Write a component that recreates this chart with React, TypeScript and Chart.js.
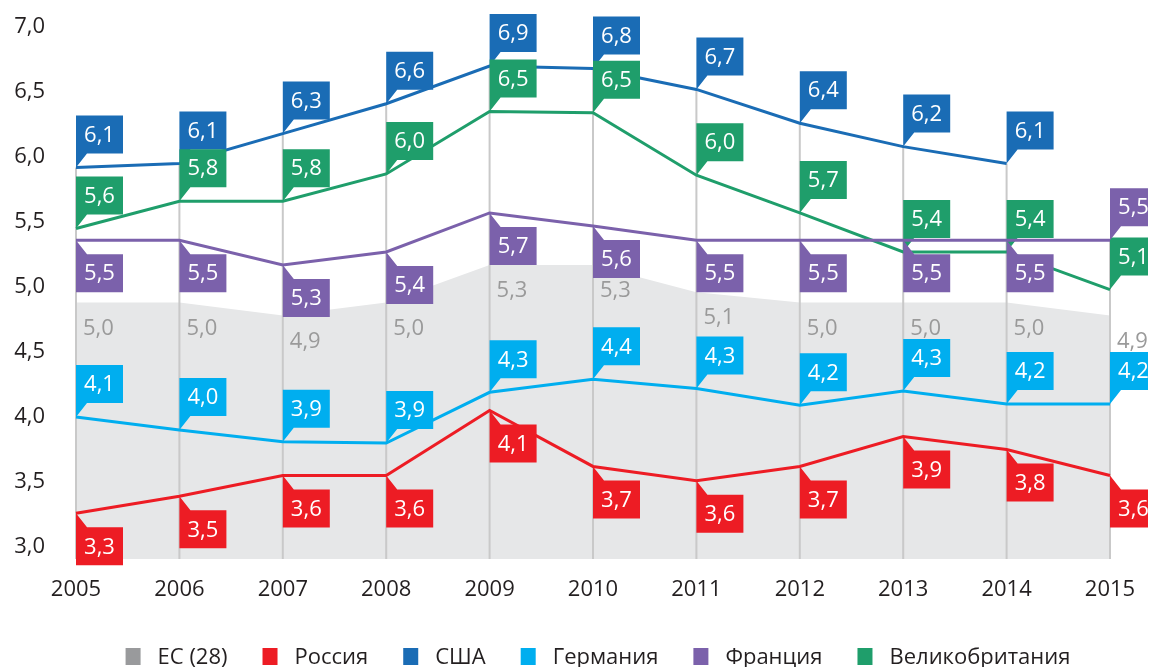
import React, { useEffect, useRef } from 'react';
import { Chart, registerables } from 'chart.js';

Chart.register(...registerables);

const YEARS = ['2005', '2006', '2007', '2008', '2009', '2010', '2011', '2012', '2013', '2014', '2015'];
const Y_TICKS = [3.0, 3.5, 4.0, 4.5, 5.0, 5.5, 6.0, 6.5, 7.0];

const EU_VALUES = [4.88, 4.88, 4.78, 4.88, 5.17, 5.17, 4.96, 4.88, 4.88, 4.88, 4.78];
const EU_LABELS = ['5,0', '5,0', '4,9', '5,0', '5,3', '5,3', '5,1', '5,0', '5,0', '5,0', '4,9'];

const RUSSIA_VALUES = [3.26, 3.39, 3.55, 3.55, 4.05, 3.62, 3.51, 3.62, 3.85, 3.75, 3.55];
const RUSSIA_LABELS = ['3,3', '3,5', '3,6', '3,6', '4,1', '3,7', '3,6', '3,7', '3,9', '3,8', '3,6'];

const USA_VALUES = [5.92, 5.95, 6.18, 6.41, 6.7, 6.68, 6.52, 6.26, 6.08, 5.95, null];
const USA_LABELS = ['6,1', '6,1', '6,3', '6,6', '6,9', '6,8', '6,7', '6,4', '6,2', '6,1', null];

const GERMANY_VALUES = [4.0, 3.9, 3.81, 3.8, 4.19, 4.29, 4.22, 4.09, 4.2, 4.1, 4.1];
const GERMANY_LABELS = ['4,1', '4,0', '3,9', '3,9', '4,3', '4,4', '4,3', '4,2', '4,3', '4,2', '4,2'];

const FRANCE_VALUES = [5.36, 5.36, 5.17, 5.27, 5.57, 5.47, 5.36, 5.36, 5.36, 5.36, 5.36];
const FRANCE_LABELS = ['5,5', '5,5', '5,3', '5,4', '5,7', '5,6', '5,5', '5,5', '5,5', '5,5', '5,5'];
const FRANCE_SIDES = ['below', 'below', 'below', 'below', 'below', 'below', 'below', 'below', 'below', 'below', 'above'];

const UK_VALUES = [5.45, 5.66, 5.66, 5.87, 6.35, 6.34, 5.86, 5.57, 5.27, 5.27, 4.98];
const UK_LABELS = ['5,6', '5,8', '5,8', '6,0', '6,5', '6,5', '6,0', '5,7', '5,4', '5,4', '5,1'];

const LEGEND_ITEMS = [
  { label: 'ЕС (28)', color: '#999a9c' },
  { label: 'Россия', color: '#ed1c24' },
  { label: 'США', color: '#1a6cb5' },
  { label: 'Германия', color: '#00aeef' },
  { label: 'Франция', color: '#7b61ab' },
  { label: 'Великобритания', color: '#1f9e6b' },
];

const FONT = '"Open Sans", "Noto Sans", sans-serif';

const BOX_W = 47;
const BOX_H = 38;
const GAP = 14;
const TAIL = 11;

function drawCallout(ctx: CanvasRenderingContext2D, x: number, y: number, text: string, color: string, side: string) {
  ctx.save();
  ctx.fillStyle = color;
  let top: number;
  ctx.beginPath();
  if (side === 'above') {
    const bottom = y - GAP;
    top = bottom - BOX_H;
    ctx.moveTo(x, y);
    ctx.lineTo(x, top);
    ctx.lineTo(x + BOX_W, top);
    ctx.lineTo(x + BOX_W, bottom);
    ctx.lineTo(x + TAIL, bottom);
  } else {
    top = y + GAP;
    const bottom = top + BOX_H;
    ctx.moveTo(x, y);
    ctx.lineTo(x + TAIL, top);
    ctx.lineTo(x + BOX_W, top);
    ctx.lineTo(x + BOX_W, bottom);
    ctx.lineTo(x, bottom);
  }
  ctx.closePath();
  ctx.fill();
  ctx.fillStyle = '#ffffff';
  ctx.font = `22px ${FONT}`;
  ctx.textAlign = 'center';
  ctx.textBaseline = 'middle';
  ctx.fillText(text, x + BOX_W / 2, top + BOX_H / 2 + 1);
  ctx.restore();
}

const calloutPlugin = {
  id: 'callouts',
  afterDatasetDraw(chart: any, args: any) {
    const ctx: CanvasRenderingContext2D = chart.ctx;
    const ds: any = chart.data.datasets[args.index];
    const xs = chart.scales.x;
    const ys = chart.scales.y;
    const area = chart.chartArea;
    if (ds.kind === 'area') {
      ctx.save();
      ctx.strokeStyle = '#c9c9c9';
      ctx.lineWidth = 2;
      YEARS.forEach((_, i) => {
        let top = area.bottom;
        chart.data.datasets.forEach((d: any) => {
          if (d.kind === 'line' && d.data[i] != null) {
            top = Math.min(top, ys.getPixelForValue(d.data[i]));
          }
        });
        const x = xs.getPixelForValue(i);
        ctx.beginPath();
        ctx.moveTo(x, top);
        ctx.lineTo(x, area.bottom);
        ctx.stroke();
      });
      ctx.fillStyle = '#9a9a9a';
      ctx.font = `22px ${FONT}`;
      ctx.textAlign = 'left';
      ctx.textBaseline = 'middle';
      ds.data.forEach((v: number, i: number) => {
        const x = xs.getPixelForValue(i);
        const y = ys.getPixelForValue(v);
        ctx.fillText(ds.valueLabels[i], x + 7, y + 26);
      });
      ctx.restore();
      return;
    }
    ds.data.forEach((v: number | null, i: number) => {
      if (v == null || ds.valueLabels[i] == null) return;
      const x = xs.getPixelForValue(i);
      const y = ys.getPixelForValue(v);
      const side = ds.sides ? ds.sides[i] : ds.side;
      drawCallout(ctx, x, y, ds.valueLabels[i], ds.borderColor, side);
    });
  },
  afterDraw(chart: any) {
    const ctx: CanvasRenderingContext2D = chart.ctx;
    const area = chart.chartArea;
    ctx.save();
    ctx.font = `22px ${FONT}`;
    const sqW = 15;
    const sqH = 17;
    const gapIn = 17;
    const spacing = 35;
    const widths = LEGEND_ITEMS.map((it) => ctx.measureText(it.label).width);
    const total = widths.reduce((a, w) => a + sqW + gapIn + w, 0) + spacing * (LEGEND_ITEMS.length - 1);
    let x = (area.left + area.right) / 2 + 5 - total / 2;
    const baseline = 656;
    ctx.textAlign = 'left';
    ctx.textBaseline = 'alphabetic';
    LEGEND_ITEMS.forEach((it, i) => {
      ctx.fillStyle = it.color;
      ctx.fillRect(x, baseline - 16, sqW, sqH);
      ctx.fillStyle = '#231f20';
      ctx.fillText(it.label, x + sqW + gapIn, baseline);
      x += sqW + gapIn + widths[i] + spacing;
    });
    ctx.restore();
  },
};

export default function App() {
  const ref = useRef<HTMLCanvasElement | null>(null);
  useEffect(() => {
    if (!ref.current) return;
    const lineDs = (label: string, data: any[], labels: any[], color: string, order: number, side: string, sides?: string[]) => ({
      kind: 'line',
      label,
      data,
      valueLabels: labels,
      side,
      sides,
      borderColor: color,
      backgroundColor: color,
      borderWidth: 3,
      pointRadius: 0,
      tension: 0,
      fill: false,
      order,
      clip: false,
    });
    const chart = new Chart(ref.current, {
      type: 'line',
      data: {
        labels: YEARS,
        datasets: [
          {
            kind: 'area',
            label: 'ЕС (28)',
            data: EU_VALUES,
            valueLabels: EU_LABELS,
            borderWidth: 0,
            borderColor: 'rgba(0,0,0,0)',
            backgroundColor: '#e6e7e8',
            pointRadius: 0,
            tension: 0,
            fill: 'start',
            order: 10,
          } as any,
          lineDs('Россия', RUSSIA_VALUES, RUSSIA_LABELS, '#ed1c24', 5, 'below') as any,
          lineDs('Германия', GERMANY_VALUES, GERMANY_LABELS, '#00aeef', 4, 'above') as any,
          lineDs('США', USA_VALUES, USA_LABELS, '#1a6cb5', 3, 'above') as any,
          lineDs('Великобритания', UK_VALUES, UK_LABELS, '#1f9e6b', 2, 'above') as any,
          lineDs('Франция', FRANCE_VALUES, FRANCE_LABELS, '#7b61ab', 1, 'below', FRANCE_SIDES) as any,
        ],
      },
      options: {
        animation: false,
        responsive: false,
        devicePixelRatio: 1,
        layout: { padding: { top: 19, right: 38, left: 0, bottom: 48 } },
        plugins: { legend: { display: false }, tooltip: { enabled: false } },
        scales: {
          x: {
            type: 'category',
            offset: false,
            grid: { display: false, drawTicks: false },
            border: { display: false },
            ticks: {
              padding: 18,
              color: '#231f20',
              font: { size: 22, family: FONT },
              maxRotation: 0,
              autoSkip: false,
            },
            afterFit: (s: any) => {
              s.height = 60;
              s.paddingLeft = 0;
              s.paddingRight = 0;
              s.paddingTop = 0;
              s.paddingBottom = 0;
            },
          },
          y: {
            min: 2.908,
            max: 7.0,
            grid: { display: false, drawTicks: false },
            border: { display: false },
            ticks: {
              padding: 31,
              color: '#231f20',
              font: { size: 22, family: FONT },
              callback: (v: any) => Number(v).toFixed(1).replace('.', ','),
            },
            afterBuildTicks: (s: any) => {
              s.ticks = Y_TICKS.map((v) => ({ value: v }));
            },
            afterFit: (s: any) => {
              s.width = 68;
              s.paddingLeft = 0;
              s.paddingRight = 0;
              s.paddingTop = 0;
              s.paddingBottom = 0;
            },
          },
        },
      },
      plugins: [calloutPlugin],
    });
    return () => chart.destroy();
  }, []);
  return (
    <div style={{ position: 'fixed', left: 8, top: 8, width: 1140, height: 659, overflow: 'hidden' }}>
      <canvas ref={ref} width={1140} height={659} style={{ display: 'block', width: 1140, height: 659 }} />
    </div>
  );
}
